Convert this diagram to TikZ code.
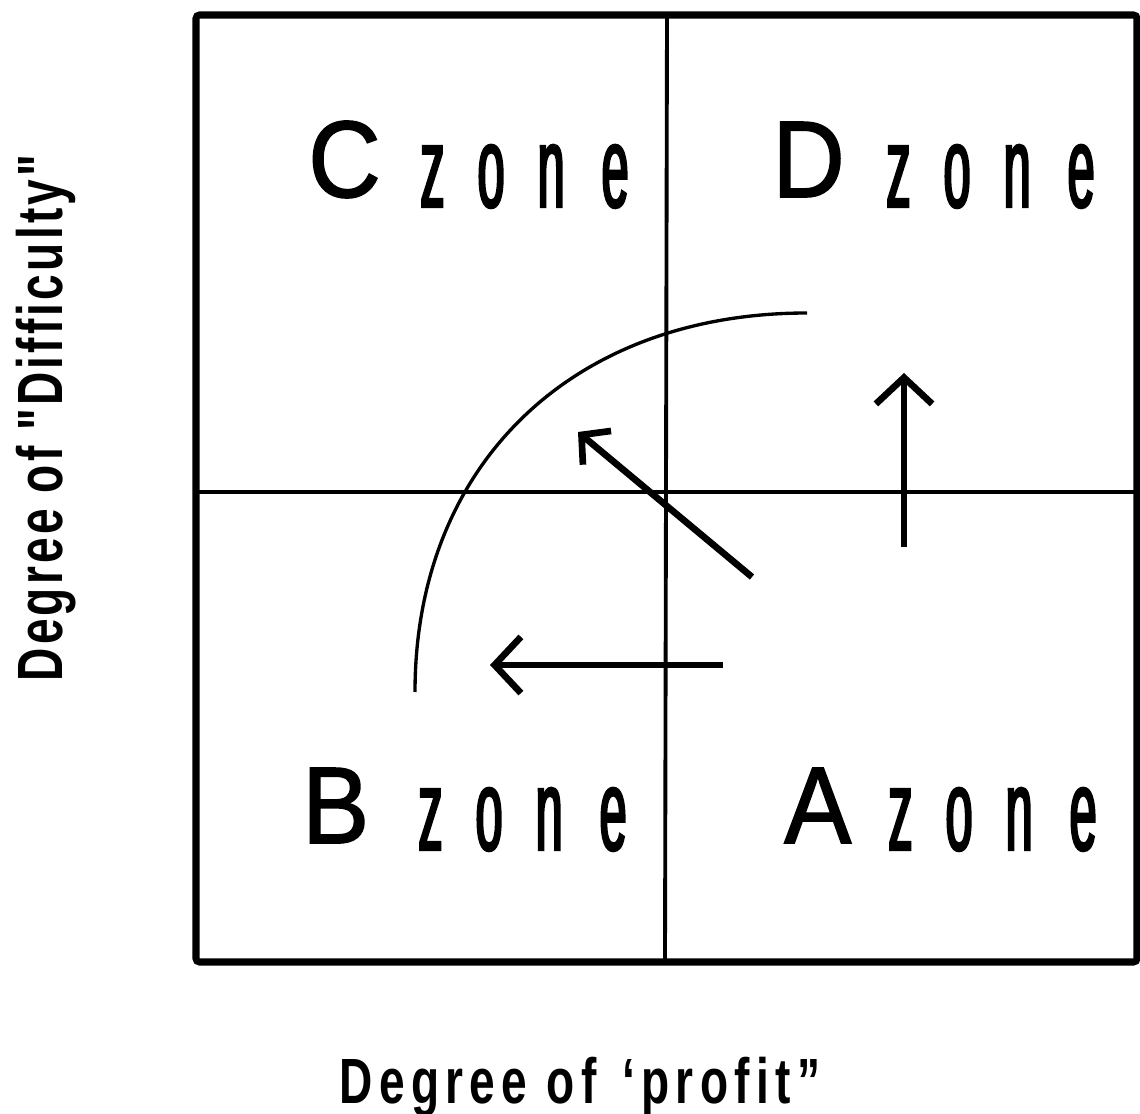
\documentclass[tikz,border=0pt]{standalone}
\usepackage{fontspec}
\setmainfont{Liberation Sans}
\usetikzlibrary{arrows.meta}
\newfontfamily\bigletter[FakeStretch=0.92,FakeBold=1.5]{Liberation Sans}
\newfontfamily\zonefont[FakeStretch=0.42,FakeBold=2]{Liberation Sans}
\newfontfamily\axisfontx[FakeStretch=0.72,LetterSpace=10]{Liberation Sans}
\newfontfamily\axisfonty[FakeStretch=0.72,LetterSpace=5]{Liberation Sans}
\newdimen\px \px=0.02cm
\newcommand\zonetext{z\kern33\px o\kern33\px n\kern37\px e}
\begin{document}
\begin{tikzpicture}[x=0.02cm,y=-0.02cm,
  frame/.style={line width=4pt, rounded corners=2pt},
  divider/.style={line width=2.2pt},
  curve/.style={line width=1.9pt},
  flow/.style={line width=3.8pt, -{Straight Barb[length=15pt,width=32pt]}},
  smallflow/.style={line width=3.8pt, -{Straight Barb[length=11.5pt,width=25pt]}},
  bigl/.style={font=\bigletter\fontsize{62pt}{62pt}\selectfont, inner sep=0pt, anchor=base west},
  zn/.style={font=\zonefont\fontsize{65.8pt}{66pt}\selectfont, inner sep=0pt, anchor=base west},
  axis/.style={inner sep=0pt, anchor=base}]
\useasboundingbox (0,0) rectangle (1140,1114);
\fill[white] (0,0) rectangle (1140,1114);
% frame and dividers
\coordinate (tl) at (196,15);
\coordinate (br) at (1137,962);
\coordinate (vtop) at (667,15);
\coordinate (vbot) at (665,962);
\coordinate (hleft) at (196,492);
\coordinate (hright) at (1137,492);
\draw[frame] (tl) rectangle (br);
\draw[divider] (vtop) -- (vbot);
\draw[divider] (hleft) -- (hright);
% arc
\coordinate (arcS) at (415,692);
\coordinate (arcE) at (807,313);
\draw[curve] (arcS) .. controls (415,465) and (572,313) .. (arcE);
% arrows
\coordinate (hs) at (723,665);
\coordinate (ht) at (490,665);
\coordinate (ds) at (752,577);
\coordinate (dt) at (578,432);
\coordinate (vs) at (904,547);
\coordinate (vt) at (904,373);
\draw[flow] (hs) -- (ht);
\draw[smallflow] (ds) -- (dt);
\draw[flow] (vs) -- (vt);
% zone labels
\node[bigl] (Cl) at (308,197) {C};
\node[zn] (Cz) at (420,207) {\zonetext};
\node[bigl] (Dl) at (772,197) {D};
\node[zn] (Dz) at (886,207) {\zonetext};
\node[bigl] (Bl) at (302,843) {B};
\node[zn] (Bz) at (418,850) {\zonetext};
\node[bigl] (Al) at (784,843) {A};
\node[zn] (Az) at (888,850) {\zonetext};
% axis labels
\node[axis, font=\axisfontx\bfseries\fontsize{36.4pt}{37pt}\selectfont] (xlab) at (580,1103) {Degree of\hskip0.4em ‘profit”};
\node[axis, rotate=90, font=\axisfonty\bfseries\fontsize{36.4pt}{37pt}\selectfont] (ylab) at (62,418) {Degree of "Difficulty"};
\end{tikzpicture}
\end{document}
